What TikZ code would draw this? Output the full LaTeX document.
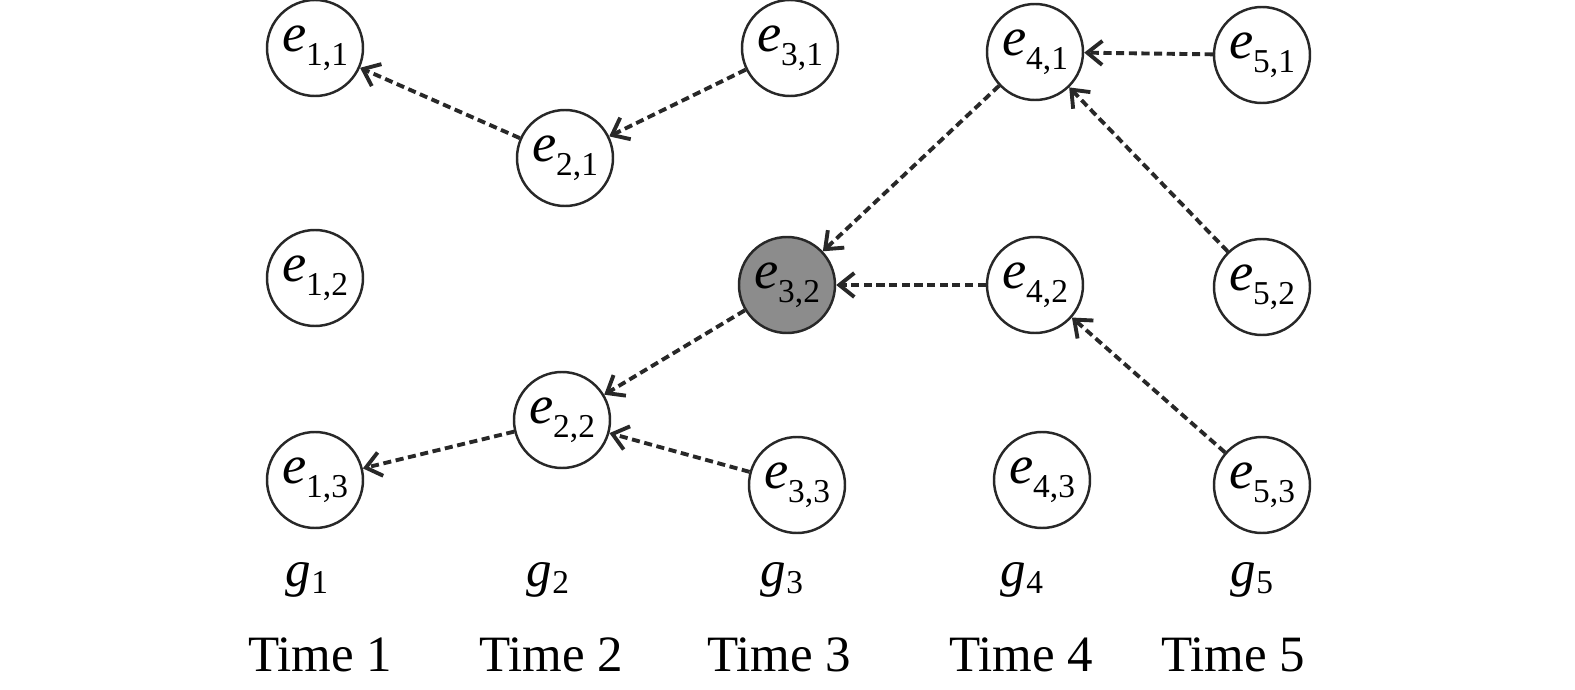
\documentclass[tikz,border=0pt]{standalone}
\usepackage{fontspec}
\setmainfont{Liberation Serif}
\usepackage{tikz}
\usetikzlibrary{arrows.meta}
\definecolor{evgray}{RGB}{140,140,140}
\definecolor{evline}{RGB}{40,40,40}
\tikzstyle{evt} = [circle, draw=evline, line width=0.7pt, minimum size=0.96cm, inner sep=0pt, font=\fontsize{15.5}{16}\selectfont]
\tikzstyle{back} = [line width=1.1pt, dash pattern=on 2.3pt off 1.3pt, color=evline, -{Straight Barb[length=1.5mm,width=2.4mm]}]
\tikzstyle{lbl} = [font=\fontsize{14.5}{16}\selectfont]
\newcommand{\ev}[2]{\textit{e}\raisebox{-0.55ex}{\fontsize{9.5}{10}\selectfont #1,#2}}
\newcommand{\gv}[1]{\textit{g}\raisebox{-0.3ex}{\fontsize{9.5}{10}\selectfont #1}}

\begin{document}
\begin{tikzpicture}
    \useasboundingbox (0,0) rectangle (15.75,6.89);

    % events per time step
    \node[evt] (e11) at (3.15,6.41) {\ev{1}{1}};
    \node[evt] (e12) at (3.15,4.11) {\ev{1}{2}};
    \node[evt] (e13) at (3.15,2.09) {\ev{1}{3}};
    \node[evt] (e21) at (5.65,5.31) {\ev{2}{1}};
    \node[evt] (e22) at (5.62,2.69) {\ev{2}{2}};
    \node[evt] (e31) at (7.90,6.41) {\ev{3}{1}};
    \node[evt, fill=evgray] (e32) at (7.87,4.04) {\ev{3}{2}};
    \node[evt] (e33) at (7.97,2.04) {\ev{3}{3}};
    \node[evt] (e41) at (10.35,6.37) {\ev{4}{1}};
    \node[evt] (e42) at (10.35,4.04) {\ev{4}{2}};
    \node[evt] (e43) at (10.42,2.09) {\ev{4}{3}};
    \node[evt] (e51) at (12.62,6.34) {\ev{5}{1}};
    \node[evt] (e52) at (12.62,4.02) {\ev{5}{2}};
    \node[evt] (e53) at (12.62,2.04) {\ev{5}{3}};

    % groups and time labels
    \node[lbl] (g1) at (3.07,1.09) {\gv{1}};
    \node[lbl] (g2) at (5.48,1.09) {\gv{2}};
    \node[lbl] (g3) at (7.82,1.09) {\gv{3}};
    \node[lbl] (g4) at (10.22,1.09) {\gv{4}};
    \node[lbl] (g5) at (12.52,1.09) {\gv{5}};
    \node[lbl] (t1) at (3.20,0.34) {Time 1};
    \node[lbl] (t2) at (5.51,0.34) {Time 2};
    \node[lbl] (t3) at (7.79,0.34) {Time 3};
    \node[lbl] (t4) at (10.21,0.34) {Time 4};
    \node[lbl] (t5) at (12.33,0.34) {Time 5};

    % back links
    \draw[back] (e21) -- (e11);
    \draw[back] (e31) -- (e21);
    \draw[back] (e41) -- (e32);
    \draw[back] (e51) -- (e41);
    \draw[back] (e52) -- (e41);
    \draw[back] (e42) -- (e32);
    \draw[back] (e32) -- (e22);
    \draw[back] (e22) -- (e13);
    \draw[back] (e33) -- (e22);
    \draw[back] (e53) -- (e42);
\end{tikzpicture}
\end{document}
